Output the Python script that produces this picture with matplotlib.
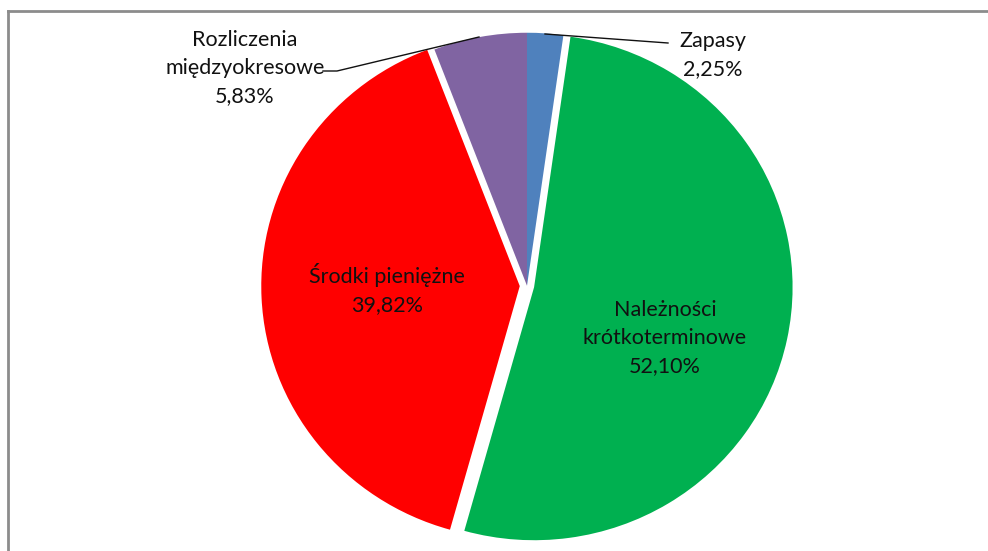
import matplotlib
matplotlib.use("Agg")
import matplotlib.pyplot as plt
from matplotlib.lines import Line2D

categories = ["Zapasy", "Należności\nkrótkoterminowe", "Środki pieniężne", "Rozliczenia\nmiędzyokresowe"]
values = [2.25, 52.10, 39.82, 5.83]
pct_labels = ["2,25%", "52,10%", "39,82%", "5,83%"]
colors = ["#4F81BD", "#00B050", "#FF0000", "#8064A2"]
explode = [0.0, 0.028, 0.028, 0.0]

W, H = 988, 551
CX, CY = 527.0, 285.75
RX, RY = 258.5, 253.0

def d(px, py):
    return ((px - CX) / RX, (CY - py) / RY)

fig = plt.figure(figsize=(W / 100, H / 100), dpi=100)
fig.patch.set_facecolor("white")
ax = fig.add_axes([0, 0, 1, 1])
ax.pie(values, colors=colors, explode=explode, startangle=90, counterclock=False,
       radius=1.0, wedgeprops=dict(linewidth=0))
ax.set_xlim(-CX / RX, (W - CX) / RX)
ax.set_ylim((CY - H) / RY, CY / RY)
ax.set_aspect("auto")
ax.axis("off")

font = dict(family=["Lato", "DejaVu Sans"], fontsize=15.5, color="#111111",
            ha="center", va="center", linespacing=1.5)

# outside labels
x, y = d(713, 55)
ax.text(x, y, f"{categories[0]}\n{pct_labels[0]}", **font)
x, y = d(245, 68)
ax.text(x, y, f"{categories[3]}\n{pct_labels[3]}", **font)
# inside labels
x, y = d(665, 338)
ax.text(x, y, f"{categories[1]}\n{pct_labels[1]}", **font)
x, y = d(387, 289)
ax.text(x, y, f"{categories[2]}\n{pct_labels[2]}", **font)

# leader lines
p = [d(545, 34), d(668, 43)]
ax.plot([p[0][0], p[1][0]], [p[0][1], p[1][1]], color="#111111", lw=1.0)
p = [d(479, 37), d(337, 71), d(323, 71)]
ax.plot([q[0] for q in p], [q[1] for q in p], color="#111111", lw=1.0)

# frame (left and top edges visible)
fig.add_artist(Line2D([7.5 / W, 7.5 / W], [0, 1 - 11 / H], transform=fig.transFigure,
                      color="#8c8c8c", lw=2))
fig.add_artist(Line2D([7.5 / W, 1], [1 - 11 / H, 1 - 11 / H], transform=fig.transFigure,
                      color="#8c8c8c", lw=2))

fig.savefig("out.png", dpi=100, facecolor="white")
